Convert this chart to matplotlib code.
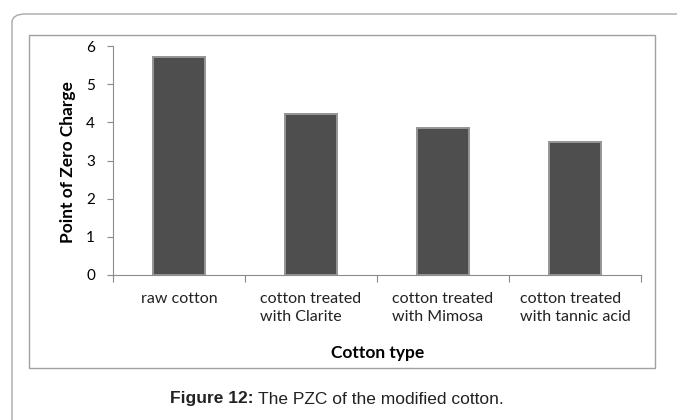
import matplotlib.pyplot as plt
from matplotlib.patches import FancyBboxPatch, Rectangle

categories = ["raw cotton", "cotton treated\nwith Clarite", "cotton treated\nwith Mimosa",
              "cotton treated\nwith tannic acid"]
pzc = [5.72, 4.22, 3.86, 3.48]
yticks = [0, 1, 2, 3, 4, 5, 6]

W, H = 677, 420
fig = plt.figure(figsize=(W / 100, H / 100), dpi=100)

# pixel coords -> figure fraction
def fx(x):
    return x / W

def fy(y):
    return 1 - y / H

outer = FancyBboxPatch((fx(12), fy(440)), fx(700) - fx(12), fy(14) - fy(440),
                       boxstyle="round,pad=0,rounding_size=0.02",
                       transform=fig.transFigure, fill=False, edgecolor="#a8a8a8", lw=1.0)
fig.patches.append(outer)
inner = Rectangle((fx(29), fy(368)), fx(655) - fx(29), fy(35) - fy(368),
                  transform=fig.transFigure, fill=False, edgecolor="#a0a0a0", lw=1.0)
fig.patches.append(inner)

ax = fig.add_axes([fx(113), fy(275), fx(641) - fx(113), fy(46) - fy(275)])
x = range(len(categories))
ax.bar(x, pzc, width=0.4, color="#4e4e4e", edgecolor="#959595", linewidth=1.4)

ax.set_xlim(-0.5, len(categories) - 0.5)
ax.set_ylim(0, 6)
ax.set_yticks(yticks)
ax.set_yticklabels([str(t) for t in yticks], fontsize=11, family="Lato")
ax.set_xticks([i - 0.5 for i in range(len(categories) + 1)])
ax.set_xticklabels([])
ax.set_xticks(list(x), minor=True)
ax.set_xticklabels(categories, minor=True, fontsize=11.5, family="Lato", color="#222222",
                   multialignment="left", linespacing=1.35)
ax.tick_params(axis="x", which="minor", length=0, pad=12)
ax.tick_params(axis="x", which="major", length=5, color="#888888", direction="out")
ax.tick_params(axis="y", length=4, color="#888888", direction="out", pad=9)

for s in ["top", "right"]:
    ax.spines[s].set_visible(False)
for s in ["left", "bottom"]:
    ax.spines[s].set_color("#8c8c8c")

fig.text(fx(68), fy(162), "Point of Zero Charge", fontsize=12.5, fontweight="bold",
         family="Lato", rotation=90, ha="center", va="center")
fig.text(fx(378), fy(353), "Cotton type", fontsize=12.5, fontweight="bold", family="Lato",
         ha="center", va="center")

fig.text(fx(254), fy(399), "Figure 12:", fontsize=12.5, fontweight="bold",
         family="Liberation Sans", ha="right", va="center", color="#222222")
fig.text(fx(258), fy(399), "The PZC of the modified cotton.", fontsize=12.5,
         family="Liberation Sans", ha="left", va="center", color="#222222")

fig.savefig("out.png", dpi=100)
